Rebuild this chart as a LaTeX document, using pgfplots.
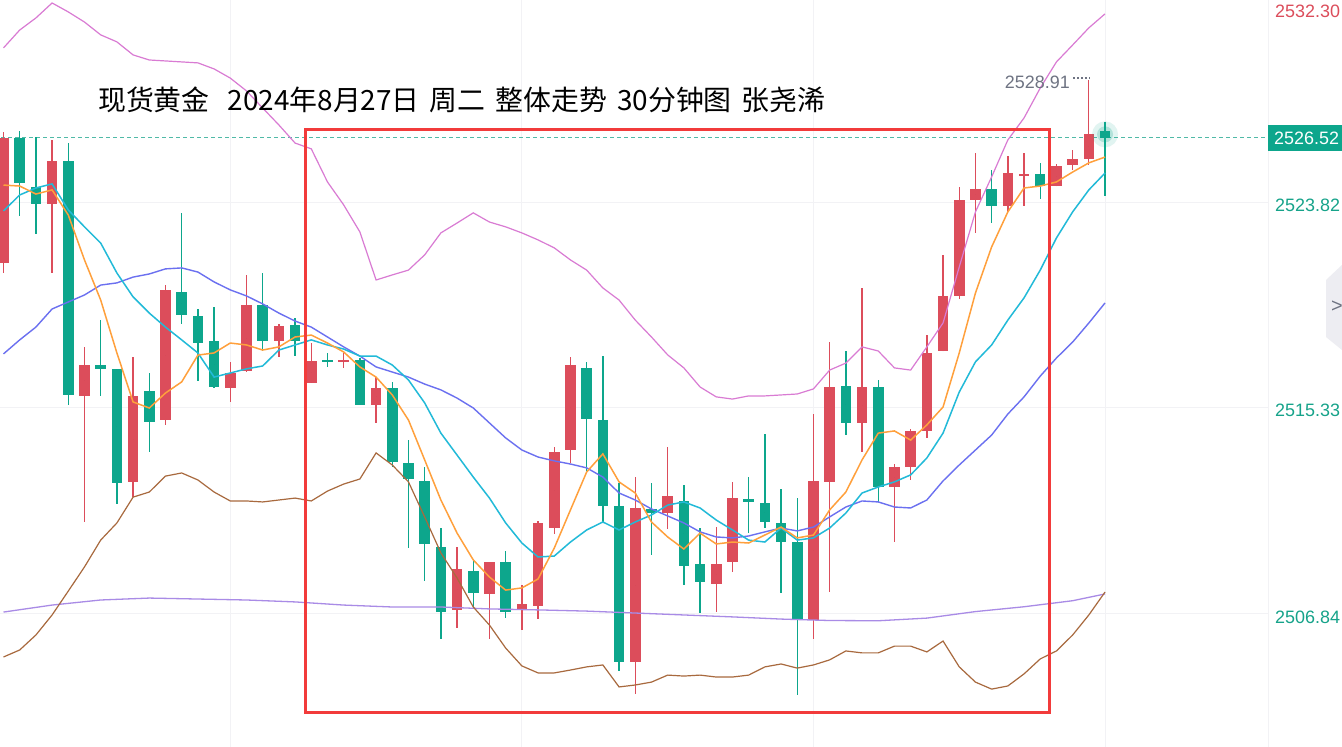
\documentclass[border=0pt]{standalone}
\usepackage{pgfplots}
\pgfplotsset{compat=1.18}
\usepackage{pgfplotstable}
\usepackage{fontspec}
\setmainfont{Liberation Sans}
\newfontfamily\cjk{Noto Sans CJK SC}

\definecolor{redc}{HTML}{DC4D5B}
\definecolor{greenc}{HTML}{0DA68C}
\definecolor{orangec}{HTML}{FFA03C}
\definecolor{cyanc}{HTML}{22BAD8}
\definecolor{bluec}{HTML}{6B70F0}
\definecolor{purplec}{HTML}{A98BE6}
\definecolor{pinkc}{HTML}{D97BD3}
\definecolor{brownc}{HTML}{A8693E}
\definecolor{gridc}{HTML}{F2F2F5}
\definecolor{boxred}{HTML}{F23B3B}
\definecolor{labteal}{HTML}{16A38A}
\definecolor{labgray}{HTML}{6E7382}
\definecolor{btnc}{HTML}{EDEDF2}

% red = rising candles: i open high low close
\pgfplotstableread{
i o h l c
0 2521.33 2526.76 2520.92 2526.51
3 2523.78 2526.43 2520.92 2525.56
5 2515.83 2517.86 2510.61 2517.11
8 2512.27 2517.44 2511.64 2515.83
10 2514.83 2520.42 2514.63 2520.22
14 2516.16 2517.23 2515.58 2516.78
15 2516.86 2520.84 2516.82 2519.60
17 2518.10 2518.81 2517.44 2518.73
19 2516.37 2518.02 2516.37 2517.28
21 2517.26 2517.61 2516.99 2517.30
23 2515.45 2516.61 2514.71 2516.16
28 2506.97 2509.57 2506.22 2508.66
30 2507.63 2508.95 2505.76 2508.95
32 2506.97 2508.00 2506.14 2507.21
33 2507.13 2510.65 2506.59 2510.57
34 2510.36 2513.72 2510.11 2513.51
35 2513.59 2517.44 2513.05 2517.11
39 2504.81 2512.47 2503.49 2511.19
41 2510.98 2513.72 2510.32 2511.69
44 2508.04 2510.40 2506.88 2508.87
45 2508.95 2512.27 2508.54 2511.60
50 2506.55 2515.08 2505.76 2512.31
51 2512.27 2518.06 2507.71 2516.20
53 2514.71 2520.30 2513.51 2516.20
55 2512.06 2513.01 2509.78 2512.89
56 2512.89 2514.46 2512.35 2514.38
57 2514.38 2518.35 2514.09 2517.61
58 2517.69 2521.67 2517.69 2519.97
59 2519.97 2524.48 2519.84 2523.94
60 2523.94 2525.89 2522.58 2524.40
62 2523.69 2525.76 2523.45 2525.06
63 2524.96 2525.89 2523.69 2525.00
65 2524.52 2525.43 2524.52 2525.35
66 2525.39 2526.01 2525.19 2525.64
67 2525.64 2528.91 2525.39 2526.68
}\redtab

% green = falling candles
\pgfplotstableread{
i o h l c
1 2526.51 2526.80 2523.28 2524.65
2 2524.48 2526.55 2522.53 2523.78
4 2525.56 2526.30 2515.45 2515.87
6 2517.11 2518.97 2515.83 2516.94
7 2516.94 2516.94 2511.35 2512.22
9 2516.03 2516.78 2513.51 2514.75
11 2520.13 2523.40 2518.81 2519.18
12 2519.14 2519.43 2516.45 2518.02
13 2518.10 2519.51 2516.16 2516.20
16 2519.60 2520.92 2517.69 2518.10
18 2518.77 2519.06 2517.48 2518.10
20 2517.30 2517.61 2517.03 2517.26
22 2517.32 2517.40 2515.45 2515.45
24 2516.16 2516.41 2512.89 2513.09
25 2513.05 2514.00 2509.53 2512.39
26 2512.31 2512.89 2508.17 2509.70
27 2509.57 2510.36 2505.76 2506.88
29 2508.58 2509.08 2507.09 2507.67
31 2508.95 2509.41 2506.63 2506.88
36 2516.99 2517.23 2512.72 2514.87
37 2514.83 2517.48 2510.61 2511.27
38 2511.27 2512.22 2504.44 2504.81
40 2511.15 2512.22 2509.24 2510.98
42 2511.48 2512.14 2508.00 2508.79
43 2508.87 2510.36 2506.84 2508.13
46 2511.60 2512.47 2510.15 2511.44
47 2511.40 2514.25 2510.36 2510.61
48 2510.57 2511.98 2507.67 2509.78
49 2509.78 2511.60 2503.45 2506.55
52 2516.24 2517.69 2514.21 2514.71
54 2516.20 2516.49 2511.44 2512.06
61 2524.40 2525.19 2522.99 2523.69
64 2525.02 2525.47 2523.98 2524.52
68 2526.80 2527.17 2524.11 2526.52
}\greentab

% moving averages and bands
\pgfplotstableread{
i ma5 ma10 ma20 up dn
0 2524.56 2523.49 2517.57 2530.24 2505.02
1 2524.52 2524.15 2518.15 2530.98 2505.31
2 2524.19 2524.44 2518.68 2531.48 2505.93
3 2524.36 2524.61 2519.43 2532.10 2506.76
4 2523.32 2523.53 2519.72 2531.73 2507.75
5 2521.46 2522.83 2520.01 2531.31 2508.75
6 2519.80 2522.16 2520.42 2530.78 2509.86
7 2517.61 2520.92 2520.51 2530.49 2510.57
8 2515.58 2519.93 2520.75 2529.95 2511.64
9 2515.33 2519.26 2520.88 2529.74 2511.85
10 2515.95 2518.68 2521.09 2529.70 2512.51
11 2516.41 2518.15 2521.13 2529.66 2512.64
12 2517.52 2517.61 2520.96 2529.62 2512.35
13 2517.61 2516.61 2520.55 2529.37 2511.85
14 2518.02 2516.78 2520.22 2528.99 2511.48
15 2517.94 2516.95 2519.97 2528.46 2511.48
16 2517.73 2517.07 2519.64 2527.75 2511.44
17 2517.86 2517.73 2519.26 2527.05 2511.52
18 2518.27 2517.94 2518.93 2526.30 2511.60
19 2518.35 2518.15 2518.68 2526.06 2511.48
20 2518.02 2517.94 2518.27 2524.69 2511.89
21 2517.65 2517.77 2517.86 2523.74 2512.18
22 2517.03 2517.48 2517.48 2522.62 2512.39
23 2516.61 2517.48 2517.03 2520.63 2513.47
24 2515.87 2517.11 2516.82 2520.84 2512.97
25 2514.83 2516.49 2516.61 2521.04 2512.27
26 2513.18 2515.54 2516.32 2521.67 2510.82
27 2511.52 2514.29 2516.08 2522.58 2509.33
28 2510.15 2513.38 2515.74 2522.99 2508.29
29 2509.04 2512.47 2515.33 2523.41 2507.09
30 2508.33 2511.60 2514.71 2523.03 2506.34
31 2507.79 2510.57 2514.09 2522.83 2505.39
32 2507.88 2509.74 2513.59 2522.58 2504.65
33 2508.25 2509.16 2513.30 2522.29 2504.36
34 2509.53 2509.20 2513.14 2521.96 2504.36
35 2511.11 2509.78 2513.01 2521.46 2504.48
36 2512.68 2510.28 2512.85 2521.04 2504.61
37 2513.43 2510.61 2512.47 2520.30 2504.69
38 2512.27 2510.28 2511.81 2519.80 2503.78
39 2511.81 2510.61 2511.52 2518.97 2503.86
40 2510.61 2510.90 2511.15 2518.27 2503.98
41 2509.99 2511.31 2510.86 2517.53 2504.27
42 2509.49 2511.44 2510.57 2516.99 2504.23
43 2510.15 2511.19 2510.20 2516.20 2504.27
44 2509.70 2510.69 2509.99 2515.79 2504.19
45 2509.78 2510.28 2509.95 2515.70 2504.19
46 2509.74 2509.86 2510.03 2515.83 2504.27
47 2510.07 2509.78 2510.20 2515.83 2504.61
48 2510.40 2510.36 2510.36 2515.87 2504.73
49 2509.95 2509.86 2510.24 2515.91 2504.56
50 2510.07 2509.95 2510.40 2516.12 2504.69
51 2511.11 2510.36 2510.82 2516.90 2504.90
52 2511.85 2510.98 2511.23 2517.19 2505.27
53 2513.18 2511.81 2511.48 2517.86 2505.19
54 2514.29 2512.06 2511.44 2517.69 2505.19
55 2514.38 2512.27 2511.23 2516.99 2505.47
56 2514.00 2512.56 2511.19 2516.90 2505.47
57 2514.63 2513.26 2511.52 2517.86 2505.23
58 2515.37 2514.29 2512.31 2518.85 2505.68
59 2517.61 2515.99 2512.97 2521.17 2504.61
60 2520.09 2517.24 2513.59 2523.45 2503.98
61 2522.00 2517.94 2514.21 2524.90 2503.69
62 2523.45 2518.97 2515.08 2526.43 2503.82
63 2524.44 2519.89 2515.79 2527.34 2504.32
64 2524.52 2521.04 2516.65 2528.58 2504.94
65 2524.69 2522.37 2517.40 2529.66 2505.27
66 2525.10 2523.45 2518.06 2530.36 2505.93
67 2525.48 2524.36 2518.85 2531.07 2506.76
68 2525.72 2525.06 2519.68 2531.65 2507.71
}\linetab

\pgfplotstableread{
i pv
0 2506.88
3 2507.17
6 2507.38
9 2507.46
12 2507.42
15 2507.38
18 2507.30
21 2507.17
24 2507.09
27 2507.09
30 2507.01
33 2506.97
36 2506.92
39 2506.84
42 2506.76
45 2506.68
48 2506.59
51 2506.53
54 2506.52
57 2506.63
60 2506.90
63 2507.10
66 2507.35
68 2507.63
}\longtab

\pgfplotsset{
  candle/.style={forget plot, only marks, mark=*, mark size=0pt,
    mark options={draw=none, fill=none},
    error bars/y dir=both, error bars/y explicit, error bars/error mark=none},
}

\begin{document}
\begin{tikzpicture}
\useasboundingbox (0,0) rectangle (1342bp,747bp);
\fill[white] (0,0) rectangle (1342bp,747bp);
\begin{axis}[
  at={(0,0)}, anchor=south west,
  width=1268bp, height=747bp, scale only axis,
  xmin=-0.216, xmax=78.06,
  ymin=2501.293, ymax=2532.224,
  axis line style={draw=none},
  xtick={14,32,50,68}, ytick={2506.84,2515.33,2523.82},
  xticklabels={}, yticklabels={},
  major tick length=0pt,
  grid=major, grid style={gridc, line width=1bp},
  clip=true,
]
% current price line
\addplot[forget plot, labteal!75, line width=0.8bp, dash pattern=on 4bp off 3bp] coordinates {(-1,2526.52) (79,2526.52)};

% wicks
\addplot[candle, error bars/error bar style={line width=1.3bp, redc}]
  table[x=i, y=o, y error plus expr={\thisrow{h}-\thisrow{o}}, y error minus expr={\thisrow{o}-\thisrow{l}}] {\redtab};
\addplot[candle, error bars/error bar style={line width=1.3bp, greenc}]
  table[x=i, y=o, y error plus expr={\thisrow{h}-\thisrow{o}}, y error minus expr={\thisrow{o}-\thisrow{l}}] {\greentab};
% bodies
\addplot[candle, error bars/error bar style={line width=10.5bp, redc}]
  table[x=i, y expr={(\thisrow{o}+\thisrow{c})/2}, y error expr={max(abs(\thisrow{c}-\thisrow{o})/2,0.03)}] {\redtab};
\addplot[candle, error bars/error bar style={line width=10.5bp, greenc}]
  table[x=i, y expr={(\thisrow{o}+\thisrow{c})/2}, y error expr={max(abs(\thisrow{c}-\thisrow{o})/2,0.03)}] {\greentab};

% indicator lines
\addplot[forget plot, purplec, line width=1.3bp] table[x=i, y=pv] {\longtab};
\addplot[forget plot, pinkc, line width=1.2bp] table[x=i, y=up] {\linetab};
\addplot[forget plot, brownc, line width=1.2bp] table[x=i, y=dn] {\linetab};
\addplot[forget plot, bluec, line width=1.4bp] table[x=i, y=ma20] {\linetab};
\addplot[forget plot, cyanc, line width=1.5bp] table[x=i, y=ma10] {\linetab};
\addplot[forget plot, orangec, line width=1.5bp] table[x=i, y=ma5] {\linetab};

% glow at last price
\addplot[forget plot, only marks, mark=*, mark size=13bp, color=greenc, draw opacity=0, fill opacity=0.12] coordinates {(68,2526.66)};
\addplot[forget plot, only marks, mark=*, mark size=8bp, color=greenc, draw opacity=0, fill opacity=0.22] coordinates {(68,2526.66)};
\end{axis}

\begin{scope}[x=1bp, y=1bp]
% right axis separator
\draw[gridc, line width=1bp] (1268.5,0) -- (1268.5,747);
% highlighted zone
\draw[boxred, line width=3bp] (305,34) rectangle (1049,617);
% title
\node[anchor=west, inner sep=0pt, text=black, font=\cjk\fontsize{28}{34}\selectfont] at (98,647) {现货黄金\hspace{18bp}2024年8月27日\hspace{10bp}周二\hspace{10bp}整体走势\hspace{10bp}30分钟图\hspace{10bp}张尧浠};
% high label
\node[anchor=east, inner sep=0pt, text=labgray, font=\fontsize{18}{20}\selectfont] at (1070,665) {2528.91};
\draw[labgray, line width=1.2bp, dash pattern=on 1.5bp off 2.5bp] (1073,669) -- (1090,669);
% price scale labels
\node[anchor=west, inner sep=0pt, text=redc, font=\fontsize{18}{20}\selectfont] at (1275,736) {2532.30};
\fill[greenc] (1268,596) rectangle (1342,622);
\node[anchor=west, inner sep=0pt, text=white, font=\fontsize{18}{20}\selectfont] at (1274,609) {2526.52};
\node[anchor=west, inner sep=0pt, text=labteal, font=\fontsize{18}{20}\selectfont] at (1275,542) {2523.82};
\node[anchor=west, inner sep=0pt, text=labteal, font=\fontsize{18}{20}\selectfont] at (1275,337) {2515.33};
\node[anchor=west, inner sep=0pt, text=labteal, font=\fontsize{18}{20}\selectfont] at (1275,130) {2506.84};
% side button
\fill[btnc] (1326,467) -- (1342,482) -- (1342,397) -- (1326,410) -- cycle;
\node[text=labgray, inner sep=0pt, font=\fontsize{20}{22}\selectfont] at (1337,440) {>};
\end{scope}
\end{tikzpicture}
\end{document}
